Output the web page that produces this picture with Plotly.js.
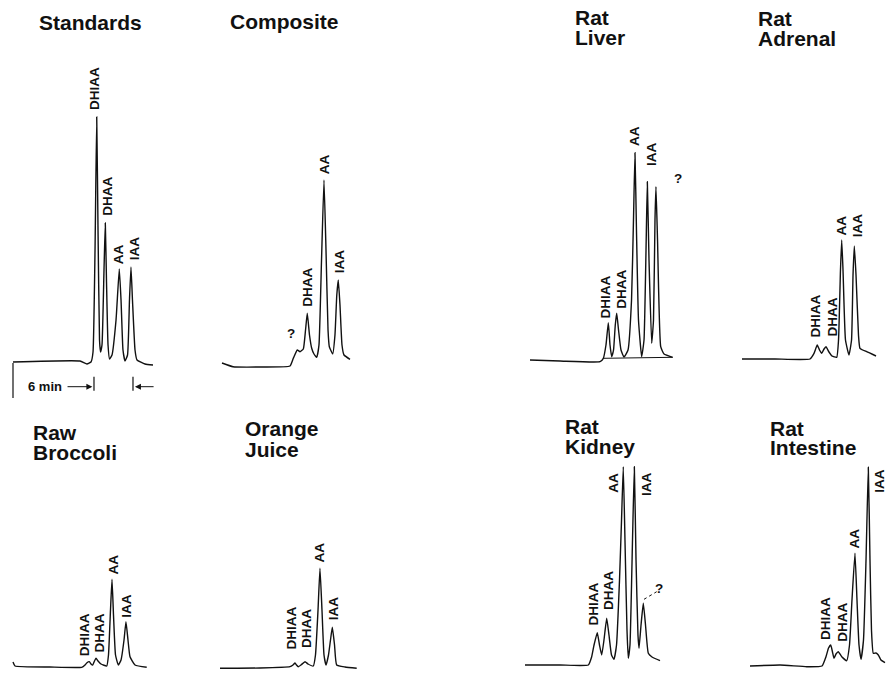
<!DOCTYPE html>
<html>
<head>
<meta charset="utf-8">
<script src="https://cdn.plot.ly/plotly-3.0.1.min.js"></script>
<style>html,body{margin:0;padding:0;background:#fff;} #chart{width:891px;height:673px;}</style>
</head>
<body>
<div id="chart"></div>
<script>
// ---------- DATA: retention time (min) vs detector response (arbitrary units) ----------
const panelTitles = [["Standards"], ["Composite"], ["Rat", "Liver"], ["Rat", "Adrenal"],
                     ["Raw", "Broccoli"], ["Orange", "Juice"], ["Rat", "Kidney"], ["Rat", "Intestine"]];

const standardsTime   = [0, 10.31, 11.38, 12.0, 12.31, 12.62, 12.88, 13.08, 13.31, 13.46, 13.69, 14.0, 14.2, 14.38, 14.62, 14.85, 15.23, 15.85, 16.35, 16.62, 16.92, 17.23, 17.62, 17.92, 18.15, 18.38, 18.77, 19.08, 20.31, 21.54];
const standardsSignal = [0.5, 1, -0.5, 0.5, 5.5, 56.5, 123, 66.5, 11.5, 5.5, 9, 46.5, 70, 41.5, 9, 2, 4, 21.5, 47, 31.5, 6.5, 1, 4, 31.5, 48, 31.5, 6.5, 1.5, -0.5, -1];
const standardsLabels = ["DHIAA", "DHAA", "AA", "IAA"];
const standardsLabelTime   = [12.57, 14.42, 16.2, 18.65];
const standardsLabelSignal = [137.3, 83.5, 54.5, 57.5];

const compositeTime   = [0, 1.69, 5.85, 10.46, 10.97, 11.58, 12.0, 12.51, 12.85, 13.12, 13.46, 13.8, 14.15, 14.57, 14.92, 15.31, 15.69, 16.0, 16.31, 16.51, 17.03, 17.38, 17.66, 17.89, 18.15, 18.46, 18.77, 19.69];
const compositeSignal = [0, -1.85, -2, -1.5, 2.35, 6.5, 5.65, 7, 16.5, 24.85, 14, 7.35, 4.5, 2.85, 9, 51.5, 91.5, 56.5, 16.5, 8.15, 4.5, 14, 34, 41.5, 29, 9, 4, 1.85];
const compositeLabels = ["?", "DHAA", "AA", "IAA"];
const compositeLabelTime   = [10.57, 13.12, 15.74, 18.08];
const compositeLabelSignal = [15, 37.75, 99.5, 50.65];

const liverTime   = [0, 4.62, 10.77, 11.28, 11.69, 12.05, 12.31, 12.57, 12.85, 13.12, 13.34, 13.62, 14.0, 14.46, 15.08, 15.62, 15.92, 16.15, 16.38, 16.69, 17.18, 17.54, 17.85, 18.05, 18.31, 18.72, 19.0, 19.23, 19.38, 19.62, 20.11, 20.62, 21.95];
const liverSignal = [0, -0.5, -0.85, 0.85, 7.5, 18.65, 7.5, 1.65, 5, 17.5, 23.35, 15, 5, 1.5, 5, 30, 70, 103.65, 65, 20, 1.65, 10, 55, 89.15, 50, 8.35, 20, 70, 86.65, 60, 6.65, 3, 1.35];
const liverBaselineTime   = [11.28, 21.95];
const liverBaselineSignal = [0.85, 1.35];
const liverLabels = ["DHIAA", "DHAA", "AA", "IAA", "?"];
const liverLabelTime   = [11.54, 14.15, 16.05, 18.58, 22.82];
const liverLabelSignal = [31.25, 35.6, 112.1, 102.9, 90.85];

const adrenalTime   = [0, 5.08, 10.46, 11.08, 11.58, 11.92, 12.26, 12.62, 12.92, 13.38, 13.85, 14.57, 14.85, 15.15, 15.34, 15.54, 15.92, 16.46, 16.85, 17.08, 17.28, 17.54, 17.92, 18.15, 19.18, 20.62];
const adrenalSignal = [0, 0, 0, 2.85, 7, 4.5, 2.85, 5, 6.15, 3.5, 1.5, 0.85, 9.5, 44.5, 59.5, 44.5, 9.5, 2, 9.5, 42, 56.5, 42, 12, 5.35, 3.65, 1.5];
const adrenalLabels = ["DHIAA", "DHAA", "AA", "IAA"];
const adrenalLabelTime   = [11.34, 13.85, 15.34, 17.69];
const adrenalLabelSignal = [21.6, 20.75, 66.6, 66.85];

const broccoliTime   = [0, 0.31, 5.69, 10.57, 11.08, 11.34, 11.74, 12.0, 12.26, 12.54, 12.77, 13.08, 13.54, 14.42, 14.69, 15.0, 15.23, 15.46, 15.77, 16.2, 16.62, 17.08, 17.38, 17.69, 18.0, 18.77, 20.57];
const broccoliSignal = [1.5, -0.5, -1, -1.15, 0, 1, 1.65, 0.5, 0, 2, 3.35, 2, 0.5, -0.5, 5, 27.5, 42.85, 25, 5, 0, 2.5, 12.5, 21.65, 12.5, 4.15, 0, -1.15];
const broccoliLabels = ["DHIAA", "DHAA", "AA", "IAA"];
const broccoliLabelTime   = [10.97, 13.38, 15.43, 17.54];
const broccoliLabelSignal = [15, 16.25, 50.4, 29.6];

const orangeTime   = [0, 6.15, 10.77, 11.23, 11.54, 11.77, 12.05, 12.46, 13.08, 13.54, 14.35, 14.69, 15.08, 15.38, 15.69, 16.0, 16.31, 16.69, 17.0, 17.28, 17.62, 17.95, 19.23, 21.03];
const orangeSignal = [-0.65, -0.5, 0.15, 1, 2, 1, 0.15, 1, 2.65, 1.5, 0.5, 6, 28.5, 49.35, 28.5, 6, 1, 6, 13.5, 19.85, 11, 1, 0, -0.65];
const orangeLabels = ["DHIAA", "DHAA", "AA", "IAA"];
const orangeLabelTime   = [10.97, 13.34, 15.38, 17.38];
const orangeLabelSignal = [19.35, 19.35, 57.25, 29.35];

const kidneyTime   = [0, 5.38, 9.74, 10.26, 10.62, 11.12, 11.46, 11.8, 12.15, 12.57, 12.92, 13.31, 13.69, 14.08, 14.54, 14.85, 15.12, 15.38, 15.69, 15.89, 16.15, 16.54, 16.82, 17.08, 17.38, 17.54, 17.85, 18.2, 18.54, 18.97, 19.54, 20.77];
const kidneySignal = [0, 0, 0, 4.15, 10, 16.15, 10, 5, 12.5, 23.35, 15, 5, 2.85, 10, 42.5, 72.5, 99.15, 62.5, 17.5, 3.35, 10, 62.5, 99.15, 52.5, 15, 8.35, 20, 30.85, 20, 5.85, 4, 2.15];
const kidneyLeaderTime   = [18.31, 20.26];
const kidneyLeaderSignal = [32.85, 36.65];
const kidneyLabels = ["DHIAA", "DHAA", "AA", "IAA", "?"];
const kidneyLabelTime   = [10.51, 12.95, 13.59, 18.57, 20.66];
const kidneyLabelSignal = [30.4, 37.1, 91.25, 90.4, 38.35];

const intestineTime   = [0, 4.62, 8.72, 11.08, 11.69, 12.08, 12.42, 12.69, 12.92, 13.23, 13.58, 14.15, 14.88, 15.31, 15.69, 16.15, 16.46, 16.77, 17.08, 17.46, 17.85, 18.2, 18.46, 18.69, 18.97, 19.38, 19.74, 20.15, 20.77];
const intestineSignal = [0, 0.5, -0.35, 0, 4.65, 9, 10.5, 7, 3.85, 6, 7.15, 4.5, 2.65, 10.5, 33, 56.35, 33, 10.5, 3.35, 13, 53, 99.35, 53, 18, 6.35, 6.5, 5.5, 3, 1.65];
const intestineLabels = ["DHIAA", "DHAA", "AA", "IAA"];
const intestineLabelTime   = [11.65, 14.2, 16.05, 20.0];
const intestineLabelSignal = [23.85, 21.75, 63.85, 92.6];

// scale bar: 6 min span marked on the Standards trace
const scaleBarText = "6 min";
const scaleBarTime = [12.46, 18.46];

// ---------- LAYOUT (positions in page pixels) ----------
const W = 891, H = 673, PX_PER_MIN = 6.5, PX_PER_UNIT = 2;
const FONT = "Liberation Sans, Arial, Helvetica, sans-serif";
const INK = "#111";

const panels = [
  {x0: 13,  y0: 363, tx: 36.7,  ty: [22.5],        t: standardsTime, s: standardsSignal, L: standardsLabels, lt: standardsLabelTime, ls: standardsLabelSignal},
  {x0: 222, y0: 363, tx: 228.3, ty: [21.5],        t: compositeTime, s: compositeSignal, L: compositeLabels, lt: compositeLabelTime, ls: compositeLabelSignal},
  {x0: 530, y0: 360, tx: 573.3, ty: [17.5, 37.5],  t: liverTime, s: liverSignal, L: liverLabels, lt: liverLabelTime, ls: liverLabelSignal,
   extra: [{t: liverBaselineTime, s: liverBaselineSignal, dash: "solid", w: 1}]},
  {x0: 742, y0: 359, tx: 756,   ty: [18.3, 38.3],  t: adrenalTime, s: adrenalSignal, L: adrenalLabels, lt: adrenalLabelTime, ls: adrenalLabelSignal},
  {x0: 13,  y0: 665, tx: 30.7,  ty: [432.5, 452.5], t: broccoliTime, s: broccoliSignal, L: broccoliLabels, lt: broccoliLabelTime, ls: broccoliLabelSignal},
  {x0: 220, y0: 667, tx: 243.3, ty: [429, 449.5],  t: orangeTime, s: orangeSignal, L: orangeLabels, lt: orangeLabelTime, ls: orangeLabelSignal},
  {x0: 525, y0: 665, tx: 562.7, ty: [426, 446.5],  t: kidneyTime, s: kidneySignal, L: kidneyLabels, lt: kidneyLabelTime, ls: kidneyLabelSignal,
   extra: [{t: kidneyLeaderTime, s: kidneyLeaderSignal, dash: "dot", w: 1}]},
  {x0: 750, y0: 666, tx: 768.3, ty: [429, 447.3],  t: intestineTime, s: intestineSignal, L: intestineLabels, lt: intestineLabelTime, ls: intestineLabelSignal}
];

const traces = [];
const annotations = [];
const shapes = [];
const layout = {
  width: W, height: H,
  margin: {l: 0, r: 0, t: 0, b: 0, pad: 0},
  paper_bgcolor: "#fff", plot_bgcolor: "rgba(0,0,0,0)",
  showlegend: false,
  annotations: annotations,
  shapes: shapes
};

panels.forEach((p, i) => {
  const n = i + 1;
  const xid = n === 1 ? "x" : "x" + n;
  const yid = n === 1 ? "y" : "y" + n;
  const left = Math.max(0, p.x0 - 15), right = Math.min(W, p.x0 + 165);
  const top = Math.max(0, p.y0 - 345), bottom = Math.min(H, p.y0 + 40);
  layout["xaxis" + (n === 1 ? "" : n)] = {
    domain: [left / W, right / W],
    range: [(left - p.x0) / PX_PER_MIN, (right - p.x0) / PX_PER_MIN],
    visible: false, fixedrange: true, anchor: yid
  };
  layout["yaxis" + (n === 1 ? "" : n)] = {
    domain: [1 - bottom / H, 1 - top / H],
    range: [(p.y0 - bottom) / PX_PER_UNIT, (p.y0 - top) / PX_PER_UNIT],
    visible: false, fixedrange: true, anchor: xid
  };
  traces.push({
    type: "scatter", mode: "lines", x: p.t, y: p.s, xaxis: xid, yaxis: yid,
    line: {color: INK, width: 1.4, shape: "spline", smoothing: 0.4},
    hoverinfo: "skip"
  });
  (p.extra || []).forEach(e => traces.push({
    type: "scatter", mode: "lines", x: e.t, y: e.s, xaxis: xid, yaxis: yid,
    line: {color: INK, width: e.w, dash: e.dash}, hoverinfo: "skip"
  }));
  // panel title, one annotation per line
  panelTitles[i].forEach((txt, k) => annotations.push({
    xref: "paper", yref: "paper", x: p.tx / W, y: 1 - p.ty[k] / H,
    xanchor: "left", yanchor: "middle", showarrow: false,
    text: "<b>" + txt + "</b>", font: {family: FONT, size: 21, color: INK}
  }));
  // peak labels
  p.L.forEach((txt, k) => annotations.push({
    xref: xid, yref: yid, x: p.lt[k], y: p.ls[k],
    xanchor: "center", yanchor: "middle", showarrow: false,
    textangle: txt === "?" ? 0 : -90,
    text: "<b>" + txt + "</b>", font: {family: FONT, size: 13.5, color: INK}
  }));
});

// scale bar on the Standards panel
shapes.push({type: "line", xref: "x", yref: "y", x0: 0, x1: 0, y0: 0, y1: -17.5, line: {color: INK, width: 1.2}});
scaleBarTime.forEach(tm => shapes.push({type: "line", xref: "x", yref: "y", x0: tm, x1: tm, y0: -6.85, y1: -13.85, line: {color: INK, width: 1.2}}));
annotations.push({xref: "x", yref: "y", x: 4.92, y: -11.85, xanchor: "center", yanchor: "middle", showarrow: false,
  text: "<b>" + scaleBarText + "</b>", font: {family: FONT, size: 13, color: INK}});
annotations.push({xref: "x", yref: "y", x: scaleBarTime[0] - 0.25, y: -11.85, ax: scaleBarTime[0] - 4.3, ay: -11.85,
  axref: "x", ayref: "y", text: "", showarrow: true, arrowhead: 2, arrowsize: 1.2, arrowwidth: 1, arrowcolor: INK, standoff: 0, startstandoff: 0});
annotations.push({xref: "x", yref: "y", x: scaleBarTime[1] + 0.3, y: -11.85, ax: scaleBarTime[1] + 3.4, ay: -11.85,
  axref: "x", ayref: "y", text: "", showarrow: true, arrowhead: 2, arrowsize: 1.2, arrowwidth: 1, arrowcolor: INK, standoff: 0, startstandoff: 0});

Plotly.newPlot("chart", traces, layout, {displayModeBar: false, staticPlot: true});
</script>
</body>
</html>
